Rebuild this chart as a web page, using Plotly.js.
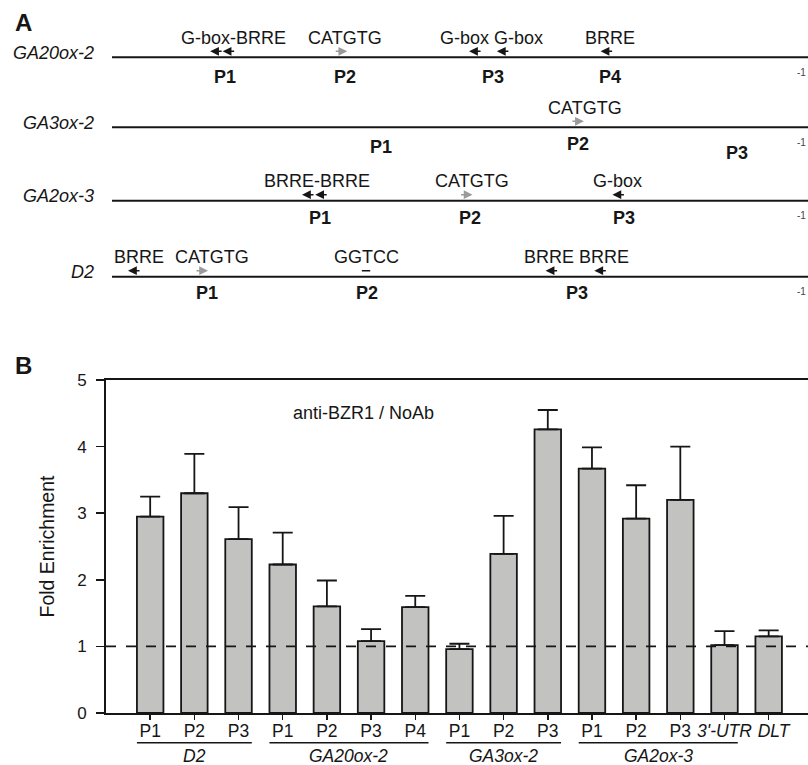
<!DOCTYPE html>
<html><head><meta charset="utf-8">
<script src="https://cdn.plot.ly/plotly-3.0.1.min.js"></script>
<style>html,body{margin:0;padding:0;background:#fff}</style>
</head><body><div id="chart" style="width:808px;height:765px"></div>
<script>
// ---------- Panel B data ----------
const barLabels = ['P1','P2','P3','P1','P2','P3','P4','P1','P2','P3','P1','P2','P3',"3'-UTR",'DLT'];
const italicLabels = ["3'-UTR",'DLT'];
const enrichment = [2.95,3.30,2.61,2.23,1.60,1.08,1.59,0.96,2.39,4.26,3.67,2.92,3.20,1.02,1.15];
const errorUp    = [0.30,0.59,0.48,0.48,0.39,0.18,0.17,0.08,0.57,0.29,0.32,0.50,0.80,0.21,0.09];
const groupNames = ['D2','GA20ox-2','GA3ox-2','GA2ox-3'];
const groupFirst = [0,3,7,10];
const groupLast  = [2,6,9,13];
const baseline = 1;
const yTicks = [0,1,2,3,4,5];
const ratioLabel = 'anti-BZR1 / NoAb';
const yTitle = 'Fold Enrichment';

// ---------- Panel A data (positions along promoter, 0-100 schematic units) ----------
const genes = ['GA20ox-2','GA3ox-2','GA2ox-3','D2'];
const motifRow  = [0,0,0,0,0,0, 1, 2,2,2,2, 3,3,3,3,3];
const motifType = ['G-box','BRRE','CATGTG','G-box','G-box','BRRE','CATGTG','BRRE','BRRE','CATGTG','G-box','BRRE','CATGTG','GGTCC','BRRE','BRRE'];
const motifPos  = [14.1,15.9,33.8,51.3,55.3,70.2, 67.8, 27.3,29.2,51.8,71.9, 2.3,13.8,36.5,62.3,69.3];
const motifDir  = ['L','L','R','L','L','L','R','L','L','R','L','L','R','-','L','L'];
const labelRow  = [0,0,0,0, 1, 2,2,2, 3,3,3,3];
const labelText = ['G-box-BRRE','CATGTG','G-box G-box','BRRE','CATGTG','BRRE-BRRE','CATGTG','G-box','BRRE','CATGTG','GGTCC','BRRE BRRE'];
const labelPos  = [17.4,33.5,54.5,71.5, 67.9, 29.5,51.7,72.7, 3.9,14.4,36.6,66.8];
const primerRow  = [0,0,0,0,1,1,1,2,2,2,3,3,3];
const primerName = ['P1','P2','P3','P4','P1','P2','P3','P1','P2','P3','P1','P2','P3'];
const primerPos  = [16.2,33.5,54.8,71.6,38.6,66.9,89.8,29.9,51.5,73.6,13.6,36.6,66.8];

// ---------- layout constants ----------
const FONT = 'Liberation Sans, Arial, Helvetica, sans-serif';
const INK = '#161616';
const rowY = [57.3,127.3,200.7,276.7];      // line position of each gene row (top panel px units)
const primerDrop = [20,20,20,20,19.5,16.5,25.5,17.5,17.5,17.5,16.6,16.6,16.6];
const topH = 713*0.5;

const xIdx = barLabels.map((_,i)=>i);
const tickText = barLabels.map(t => italicLabels.includes(t)
  ? (t==='DLT' ? '\u00a0\u00a0<i>'+t+'</i>' : '<i>'+t+'</i>') : t);

const traces = [{
  type:'bar', x:xIdx, y:enrichment, width:0.6,
  marker:{color:'#c2c2c0', line:{color:INK, width:1.8}},
  error_y:{type:'data', symmetric:false, array:errorUp, arrayminus:errorUp.map(()=>0),
           color:INK, thickness:1.8, width:10},
  xaxis:'x', yaxis:'y', hoverinfo:'skip'
}];

const shapes = [];
const annotations = [];

// baseline dashed line
shapes.push({type:'line', xref:'paper', yref:'y', x0:0, x1:1, y0:baseline, y1:baseline,
  line:{color:INK, width:1.6, dash:'10px,10px'}, layer:'above'});

// group underlines and labels
groupNames.forEach((g,i)=>{
  shapes.push({type:'line', xref:'x', yref:'paper', x0:groupFirst[i]-0.3, x1:groupLast[i]+0.3,
    y0:-0.0417, y1:-0.0417, line:{color:INK, width:1.6}});
  annotations.push({xref:'x', yref:'paper', x:(groupFirst[i]+groupLast[i])/2, y:-0.0603,
    text:'<i>'+g+'</i>', showarrow:false, yanchor:'middle', font:{size:17.5, family:FONT, color:INK}});
});

annotations.push({xref:'x', yref:'y', x:4.82, y:4.5, text:ratioLabel, showarrow:false,
  font:{size:18, family:FONT, color:INK}});

// panel letters
annotations.push({xref:'paper', yref:'paper', x:-0.1325, y:0.9684, xanchor:'left', yanchor:'middle',
  text:'<b>A</b>', showarrow:false, font:{size:24, family:FONT, color:INK}});
annotations.push({xref:'paper', yref:'paper', x:-0.1325, y:0.4867, xanchor:'left', yanchor:'middle',
  text:'<b>B</b>', showarrow:false, font:{size:24, family:FONT, color:INK}});

// ---------- panel A ----------
const plotH = 713;
genes.forEach((g,r)=>{
  const L = rowY[r];
  shapes.push({type:'line', xref:'x2', yref:'y2', x0:0, x1:100, y0:L, y1:L, line:{color:INK, width:2}});
  annotations.push({xref:'paper', yref:'paper', x:-0.01425, y:(plotH-(L-4.5))/plotH, xanchor:'right', yanchor:'middle',
    text:'<i>'+g+'</i>', showarrow:false, font:{size:18, family:FONT, color:INK}});
  annotations.push({xref:'x2', yref:'y2', x:100, y:L+15, xanchor:'right', yanchor:'middle',
    text:'-1', showarrow:false, font:{size:10, family:FONT, color:'#444'}});
});
motifPos.forEach((p,i)=>{
  const L = rowY[motifRow[i]];
  if(motifDir[i]==='-'){
    shapes.push({type:'line', xref:'x2', yref:'y2', x0:p-0.6, x1:p+0.6, y0:L-6, y1:L-6, line:{color:INK, width:1.5}});
  } else {
    const col = motifType[i]==='CATGTG' ? '#9a9a9a' : INK;
    annotations.push({xref:'x2', yref:'y2', x:p, y:L-6, text:'', showarrow:true,
      ax: motifDir[i]==='L' ? 13 : -13, ay:0, arrowhead:2, arrowsize:1.1, arrowwidth:1.6,
      arrowcolor:col, standoff:0, startstandoff:0});
  }
});
labelText.forEach((t,i)=>{
  annotations.push({xref:'x2', yref:'y2', x:labelPos[i], y:rowY[labelRow[i]]-19.5, text:t,
    showarrow:false, yanchor:'middle', font:{size:18, family:FONT, color:INK}});
});
primerName.forEach((t,i)=>{
  annotations.push({xref:'x2', yref:'y2', x:primerPos[i], y:rowY[primerRow[i]]+primerDrop[i],
    text:'<b>'+t+'</b>', showarrow:false, yanchor:'middle', font:{size:18, family:FONT, color:INK}});
});

const layout = {
  width:808, height:765,
  margin:{l:106, r:0, t:0, b:52},
  paper_bgcolor:'#fff', plot_bgcolor:'rgba(0,0,0,0)',
  showlegend:false, hovermode:false,
  font:{family:FONT, color:INK, size:17},
  xaxis:{domain:[0,1], anchor:'y', range:[-1,14.89], tickvals:xIdx, ticktext:tickText,
    tickangle:0, ticks:'outside', ticklen:5, tickwidth:1.5, tickcolor:INK, ticklabelstandoff:-4,
    showline:true, linecolor:INK, linewidth:2, mirror:true,
    showgrid:false, zeroline:false, tickfont:{size:17.5, family:FONT, color:INK}},
  yaxis:{domain:[0,0.467], anchor:'x', range:[0,5], tickvals:yTicks,
    ticks:'outside', ticklen:8, tickwidth:1.5, tickcolor:INK, ticklabelstandoff:6,
    showline:true, linecolor:INK, linewidth:2, showgrid:false, zeroline:false,
    tickfont:{size:17, family:FONT, color:INK},
    title:{text:yTitle, font:{size:19.5, family:FONT, color:INK}, standoff:17}},
  xaxis2:{domain:[0,1], anchor:'y2', range:[-0.862,100], visible:false, fixedrange:true},
  yaxis2:{domain:[0.5,1], anchor:'x2', range:[topH,0], visible:false, fixedrange:true},
  shapes:shapes, annotations:annotations
};

Plotly.newPlot('chart', traces, layout, {staticPlot:true, displayModeBar:false});
</script>
</body></html>
